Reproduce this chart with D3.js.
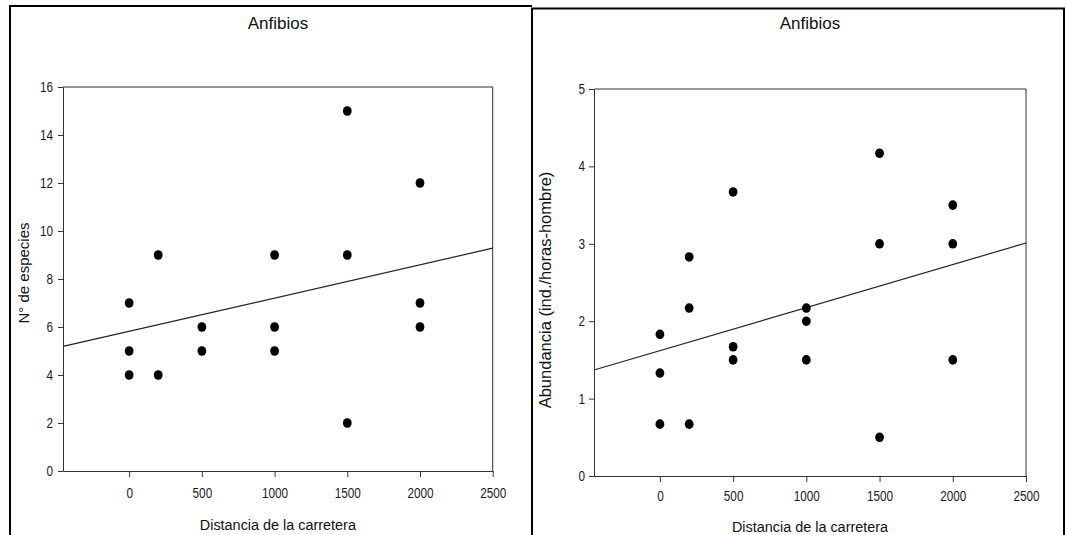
<!DOCTYPE html>
<html>
<head>
<meta charset="utf-8">
<script src="https://cdn.jsdelivr.net/npm/d3@7"></script>
<style>
  html, body { margin: 0; padding: 0; background: #fff; }
  svg { display: block; font-family: "Liberation Sans", Arial, sans-serif; }
</style>
</head>
<body>
<svg id="chart" width="1066" height="535"></svg>
<script>
// Distance from the road (m) and number of amphibian species per sample
const distSpecies = [0, 0, 0, 200, 200, 500, 500, 1000, 1000, 1000, 1500, 1500, 1500, 2000, 2000, 2000];
const species     = [7, 5, 4, 9, 4, 6, 5, 9, 6, 5, 15, 9, 2, 12, 7, 6];

// Distance from the road (m) and abundance (individuals / man-hours)
const distAbundance = [0, 0, 0, 200, 200, 200, 500, 500, 500, 1000, 1000, 1000, 1500, 1500, 1500, 2000, 2000, 2000];
const abundance     = [1.83, 1.33, 0.67, 2.83, 2.17, 0.67, 3.67, 1.67, 1.5, 2.17, 2.0, 1.5, 4.17, 3.0, 0.5, 3.5, 3.0, 1.5];

// Linear fits drawn over each scatter: [species, abundance]
const fitIntercept = [5.82, 1.62];
const fitSlope     = [0.001386, 0.000556];

// Tick values
const distTicks      = [0, 500, 1000, 1500, 2000, 2500];
const speciesTicks   = [0, 2, 4, 6, 8, 10, 12, 14, 16];
const abundanceTicks = [0, 1, 2, 3, 4, 5];

const titles  = ["Anfibios", "Anfibios"];
const xTitles = ["Distancia de la carretera", "Distancia de la carretera"];
const yTitles = ["N° de especies", "Abundancia (ind./horas-hombre)"];

const FONT = "'Liberation Sans', Arial, sans-serif";
const svg = d3.select("#chart");
const SQ = 0.84; // horizontal squeeze of tick labels
const fmt = d3.format("d");

// Outer panel frames
svg.append("path")
  .attr("d", "M10,535V6H532")
  .attr("fill", "none").attr("stroke", "#000").attr("stroke-width", 2);
svg.append("path")
  .attr("d", "M532,535V8.5H1064V535")
  .attr("fill", "none").attr("stroke", "#000").attr("stroke-width", 2);

const panels = [
  { xs: distSpecies, ys: species, yTicks: speciesTicks, yMax: 16, xMin: -455,
    left: 63, right: 492.7, top: 87, bottom: 471, xPad: 11, yPad: 5,
    titleX: 278, yLabelX: 28.5, yLabelY: 273, yLabelSize: 15, xLabelY: 530 },
  { xs: distAbundance, ys: abundance, yTicks: abundanceTicks, yMax: 5, xMin: -450,
    left: 594, right: 1026, top: 89, bottom: 476, xPad: 9, yPad: 4,
    titleX: 810, yLabelX: 551, yLabelY: 290, yLabelSize: 16.5, xLabelY: 531.5 }
];

panels.forEach((p, i) => {
  const x = d3.scaleLinear().domain([p.xMin, 2500]).range([p.left, p.right]);
  const y = d3.scaleLinear().domain([0, p.yMax]).range([p.bottom, p.top]);
  const g = svg.append("g");

  // top and right edges of the plot box
  g.append("path")
    .attr("d", `M${p.left},${p.top}H${p.right}V${p.bottom}`)
    .attr("fill", "none").attr("stroke", "#333").attr("stroke-width", 1);

  const xAxis = g.append("g")
    .attr("transform", `translate(0,${p.bottom})`)
    .call(d3.axisBottom(x).tickValues(distTicks).tickFormat(fmt)
      .tickSize(6).tickSizeOuter(0).tickPadding(p.xPad));
  xAxis.selectAll("text").attr("transform", `scale(${SQ},1)`);

  const yAxis = g.append("g")
    .attr("transform", `translate(${p.left},0)`)
    .call(d3.axisLeft(y).tickValues(p.yTicks).tickFormat(fmt)
      .tickSize(5).tickSizeOuter(0).tickPadding(p.yPad));
  yAxis.selectAll("text")
    .attr("x", -(5 + p.yPad) / SQ)
    .attr("transform", `scale(${SQ},1)`);

  [xAxis, yAxis].forEach(a => {
    a.attr("font-family", null).attr("font-size", null);
    a.select(".domain").attr("stroke", "#333");
    a.selectAll(".tick line").attr("stroke", "#333");
    a.selectAll("text").attr("fill", "#1a1a1a")
      .style("font-family", FONT).style("font-size", "14px");
  });

  // fitted line across the full x range
  const fx = [p.xMin, 2500];
  g.append("path")
    .datum(fx)
    .attr("d", d3.line().x(d => x(d)).y(d => y(fitIntercept[i] + fitSlope[i] * d)))
    .attr("fill", "none").attr("stroke", "#222").attr("stroke-width", 1.2);

  // observations
  g.selectAll("ellipse.pt")
    .data(p.xs.map((d, k) => [d, p.ys[k]]))
    .join("ellipse")
    .attr("class", "pt")
    .attr("cx", d => x(d[0]))
    .attr("cy", d => y(d[1]))
    .attr("rx", 4.4).attr("ry", 4.8)
    .attr("fill", "#000");

  // titles
  g.append("text")
    .attr("x", p.titleX).attr("y", 29)
    .attr("text-anchor", "middle")
    .style("font-size", "17px").attr("fill", "#111")
    .text(titles[i]);

  g.append("text")
    .attr("transform", `translate(${(p.left + p.right) / 2},${p.xLabelY}) scale(0.93,1)`)
    .attr("text-anchor", "middle")
    .style("font-size", "15.5px").attr("fill", "#111")
    .text(xTitles[i]);

  g.append("text")
    .attr("transform", `translate(${p.yLabelX},${p.yLabelY}) rotate(-90)`)
    .attr("text-anchor", "middle")
    .style("font-size", p.yLabelSize + "px").attr("fill", "#111")
    .text(yTitles[i]);
});
</script>
</body>
</html>
